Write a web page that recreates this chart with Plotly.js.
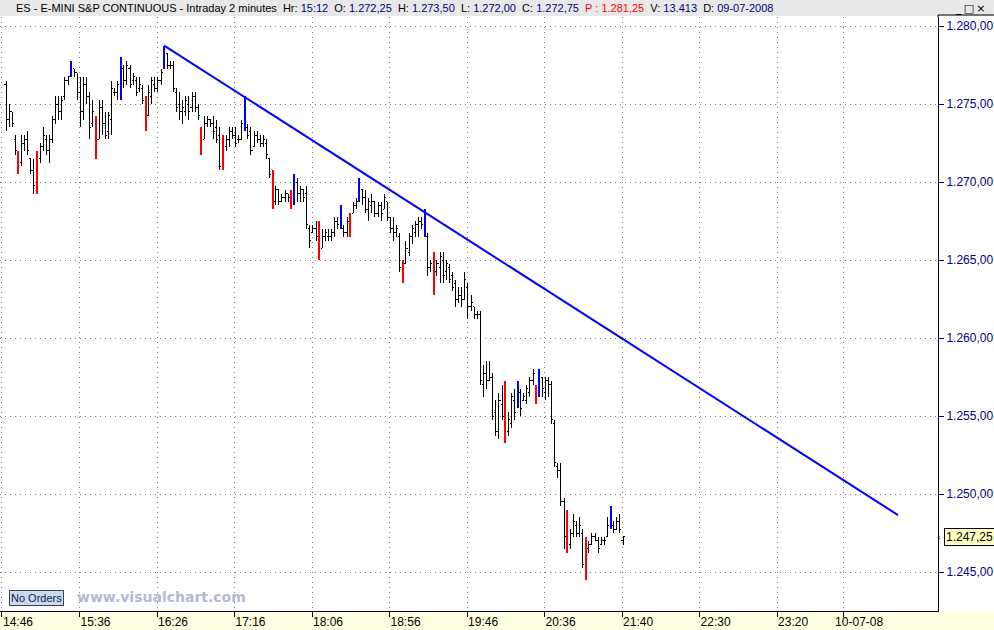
<!DOCTYPE html>
<html>
<head>
<meta charset="utf-8">
<script src="https://cdn.plot.ly/plotly-3.0.1.min.js"></script>
<style>
html,body{margin:0;padding:0;background:#fff;}
#chart{width:994px;height:630px;}
#chart .ohlclayer path{shape-rendering:crispEdges;}
</style>
</head>
<body>
<div id="chart"></div>
<script>
// ES - E-MINI S&P, 2 minute bars, index 0 = first bar on screen
const openP = [
1276.25,1274.0,1274.5,1272.75,1271.75,1271.25,1272.5,1272.75,1271.5,1270.75,
1270.0,1271.5,1272.25,1272.75,1272.0,1272.75,1274.0,1275.0,1274.5,1275.5,
1276.5,1276.75,1277.25,1277.0,1275.75,1274.5,1276.25,1275.5,1273.75,1274.0,
1272.75,1274.75,1273.75,1273.25,1274.0,1275.75,1275.75,1276.0,1277.25,1276.5,
1277.25,1276.5,1276.5,1276.0,1276.0,1275.25,1274.25,1275.5,1276.25,1276.0,
1276.5,1277.25,1278.25,1277.5,1277.5,1275.75,1275.0,1274.5,1274.5,1275.0,
1274.75,1275.5,1274.75,1273.25,1272.75,1273.75,1274.0,1273.75,1273.5,1273.0,
1271.0,1272.25,1272.75,1273.25,1273.0,1272.75,1272.75,1273.75,1273.5,1273.25,
1272.25,1273.0,1272.75,1272.5,1272.5,1271.5,1270.5,1268.75,1269.5,1268.75,
1269.0,1269.25,1269.0,1268.75,1270.0,1269.25,1269.5,1269.25,1267.0,1266.75,
1267.0,1266.75,1265.75,1266.5,1266.5,1266.5,1266.75,1267.5,1267.25,1267.0,
1266.75,1267.5,1268.0,1268.5,1268.75,1269.5,1269.0,1268.25,1268.5,1268.75,
1268.0,1268.5,1268.25,1268.75,1267.75,1267.0,1266.75,1266.5,1264.75,1264.75,
1265.5,1266.5,1266.75,1267.25,1267.5,1267.0,1266.5,1264.5,1264.75,1264.25,
1264.5,1265.0,1264.25,1264.5,1264.0,1263.5,1262.5,1262.75,1262.5,1263.25,
1262.0,1262.0,1261.5,1261.5,1257.0,1257.75,1257.25,1257.5,1255.25,1254.0,
1255.75,1255.25,1254.0,1254.5,1256.0,1255.75,1256.5,1256.0,1256.0,1256.5,
1257.25,1256.75,1256.5,1257.5,1256.5,1257.25,1257.0,1254.5,1251.75,1251.5,
1249.5,1248.75,1246.75,1247.5,1248.0,1247.5,1247.5,1247.0,1246.5,1246.75,
1247.25,1247.0,1246.75,1247.0,1247.25,1248.0,1248.0,1247.75,1248.25,1247.0
];
const highP = [
1276.5,1275.0,1274.5,1273.0,1272.0,1273.0,1273.0,1273.25,1271.5,1271.5,
1272.0,1272.5,1273.5,1273.0,1273.0,1274.25,1275.5,1275.5,1275.5,1276.75,
1276.75,1277.75,1277.25,1277.0,1276.75,1276.75,1276.75,1275.75,1275.25,1274.25,
1275.25,1275.25,1274.5,1274.5,1276.5,1276.0,1276.5,1278.0,1277.5,1277.75,
1277.5,1277.0,1276.75,1276.75,1276.25,1275.5,1276.25,1276.75,1276.75,1276.75,
1277.25,1278.75,1278.25,1277.75,1277.75,1276.0,1275.75,1275.25,1275.5,1275.5,
1275.75,1275.75,1275.0,1273.5,1274.25,1274.25,1274.0,1274.25,1274.0,1273.5,
1273.0,1273.0,1273.5,1273.5,1273.5,1273.0,1274.0,1275.5,1273.75,1273.5,
1273.25,1273.25,1273.0,1273.0,1272.75,1271.5,1270.75,1269.75,1269.5,1269.25,
1269.5,1269.25,1269.5,1270.5,1270.25,1269.75,1269.5,1269.75,1267.25,1267.25,
1267.5,1267.5,1267.0,1267.0,1267.0,1267.0,1267.75,1267.75,1268.5,1267.25,
1267.75,1268.0,1268.75,1269.0,1270.25,1269.5,1269.5,1269.0,1269.25,1268.75,
1268.75,1268.75,1269.25,1268.75,1267.75,1267.75,1267.25,1266.75,1265.0,1266.25,
1266.75,1267.25,1267.5,1267.75,1267.75,1268.25,1266.75,1265.0,1265.5,1265.0,
1265.5,1265.5,1265.0,1264.75,1264.25,1263.75,1263.25,1263.25,1264.25,1263.5,
1262.75,1262.0,1261.75,1261.75,1258.25,1258.5,1258.5,1257.75,1256.0,1256.5,
1257.0,1257.25,1255.25,1256.5,1256.75,1257.25,1256.75,1256.5,1257.0,1257.5,
1258.0,1257.0,1258.0,1257.5,1257.5,1257.5,1257.25,1254.75,1252.0,1252.0,
1249.75,1249.0,1247.75,1248.75,1248.25,1248.5,1247.75,1247.25,1247.0,1247.5,
1247.5,1247.25,1247.25,1247.25,1248.5,1249.25,1248.25,1248.5,1248.75,1247.25
];
const lowP = [
1273.25,1273.5,1273.5,1271.75,1270.5,1271.0,1272.0,1271.75,1270.5,1269.25,
1269.25,1271.25,1272.0,1271.75,1271.25,1272.5,1273.75,1274.0,1274.0,1275.25,
1276.25,1276.75,1276.75,1275.25,1273.5,1274.0,1275.0,1272.75,1273.5,1271.5,
1272.75,1273.0,1272.75,1272.75,1273.0,1275.5,1275.25,1275.25,1276.0,1276.25,
1276.0,1276.25,1275.5,1275.75,1275.0,1273.25,1274.25,1275.0,1275.75,1275.75,
1276.25,1277.25,1277.25,1277.25,1275.75,1274.5,1274.0,1273.75,1274.25,1274.0,
1274.5,1274.5,1274.0,1271.75,1272.75,1273.5,1273.5,1272.75,1272.5,1270.75,
1270.75,1272.0,1272.25,1272.75,1272.25,1272.5,1272.75,1273.25,1272.75,1271.75,
1272.25,1272.5,1272.25,1272.25,1271.5,1270.25,1268.25,1268.5,1268.5,1268.75,
1268.75,1268.75,1268.25,1268.5,1268.75,1268.75,1268.75,1267.0,1265.75,1266.75,
1266.25,1265.0,1265.75,1266.25,1266.25,1266.25,1266.5,1267.0,1267.0,1266.5,
1266.5,1266.5,1268.0,1268.25,1268.75,1268.5,1268.0,1267.5,1268.0,1267.75,
1267.75,1267.5,1268.25,1267.5,1266.75,1266.25,1266.5,1264.25,1263.5,1264.75,
1265.25,1266.0,1266.5,1266.5,1267.0,1266.5,1264.0,1264.25,1262.75,1264.0,
1263.5,1263.5,1263.75,1263.5,1263.0,1262.0,1262.25,1262.0,1262.5,1261.25,
1261.75,1261.25,1261.25,1257.0,1256.25,1256.75,1257.25,1254.75,1253.75,1253.5,
1254.75,1253.25,1253.75,1254.25,1254.75,1255.5,1255.0,1256.0,1255.75,1256.25,
1257.0,1255.75,1256.25,1256.25,1256.0,1256.25,1254.5,1251.75,1251.0,1249.25,
1246.5,1246.25,1246.5,1247.25,1247.25,1247.25,1245.25,1244.5,1246.25,1246.75,
1247.0,1246.25,1246.75,1246.75,1247.25,1247.75,1247.5,1247.75,1247.5,1246.75
];
const closeP = [
1274.0,1274.5,1273.75,1272.0,1271.0,1272.5,1272.75,1272.0,1270.75,1269.75,
1271.25,1272.25,1273.0,1272.0,1272.75,1274.0,1275.0,1274.5,1275.25,1276.5,
1276.75,1277.5,1277.0,1275.75,1274.5,1276.25,1275.5,1273.5,1274.5,1272.0,
1274.75,1273.75,1273.0,1274.25,1276.0,1275.75,1276.25,1277.5,1276.5,1277.5,
1276.25,1276.75,1275.75,1276.25,1275.25,1274.0,1275.75,1276.5,1276.0,1276.5,
1277.0,1278.5,1277.5,1277.5,1276.0,1274.75,1274.5,1274.75,1275.25,1274.5,
1275.5,1274.75,1274.25,1272.0,1273.75,1274.0,1273.75,1273.25,1272.75,1271.0,
1272.5,1272.75,1273.25,1273.0,1272.5,1272.75,1273.75,1274.5,1273.0,1272.0,
1273.0,1272.75,1272.5,1272.75,1271.75,1270.5,1268.5,1269.5,1268.75,1269.0,
1269.25,1269.0,1268.5,1270.25,1269.25,1269.5,1269.0,1267.25,1266.25,1267.0,
1266.5,1265.75,1266.5,1266.75,1266.5,1266.75,1267.5,1267.25,1268.25,1266.75,
1267.5,1266.75,1268.5,1268.75,1270.0,1269.0,1268.25,1268.75,1268.75,1268.0,
1268.5,1268.0,1269.0,1267.75,1267.0,1266.75,1267.0,1264.5,1264.0,1265.75,
1266.5,1267.0,1267.25,1267.5,1267.25,1266.75,1264.5,1264.75,1263.5,1264.75,
1265.25,1264.0,1264.75,1263.75,1263.25,1262.5,1262.75,1262.5,1263.75,1262.0,
1262.25,1261.5,1261.5,1257.25,1257.75,1257.25,1257.5,1255.0,1254.0,1256.0,
1255.0,1253.75,1254.75,1256.25,1255.25,1256.75,1255.5,1256.25,1256.75,1257.25,
1257.75,1256.0,1257.75,1256.75,1257.25,1257.0,1254.75,1252.0,1251.5,1249.5,
1247.25,1246.75,1247.5,1248.25,1247.5,1248.0,1245.5,1246.5,1246.75,1247.25,
1247.0,1246.5,1247.0,1247.0,1248.0,1248.75,1247.75,1248.25,1247.75,1247.25
];
// bars drawn in red / blue by the chart software
const redBars  = [4,10,29,45,63,70,86,92,101,111,128,138,161,171,181,187];
const blueBars = [21,37,51,77,93,108,114,135,165,172,195];

// hand-drawn trend line (bar index, price)
const trendX = [51, 287.7];
const trendY = [1278.75, 1248.65];

// axes
const timeLabels = ['14:46','15:36','16:26','17:16','18:06','18:56','19:46','20:36','21:40','22:30','23:20','10-07-08'];
const timeTickPos = [-1.3,23.7,48.7,73.7,98.7,123.7,148.7,173.7,198.7,223.7,248.7,270];
const priceTicks = [1245,1250,1255,1260,1265,1270,1275,1280];
const priceLabels = ['1.245,00','1.250,00','1.255,00','1.260,00','1.265,00','1.270,00','1.275,00','1.280,00'];
const lastPrice = 1247.25;
const lastPriceLabel = '1.247,25';

const W = 994, H = 630, ML = 0, MR = 56, MT = 17, MB = 19;
const PW = W - ML - MR, PH = H - MT - MB;
const px = v => v / PW, py = v => v / PH;

function pick(arr, idx) { return idx.map(i => arr[i]); }
const allIdx = openP.map((_, i) => i);
const blackIdx = allIdx.filter(i => !redBars.includes(i) && !blueBars.includes(i));

function ohlc(idx, color, width, tw) {
  return {
    type: 'ohlc', x: idx,
    open: pick(openP, idx), high: pick(highP, idx), low: pick(lowP, idx), close: pick(closeP, idx),
    tickwidth: tw,
    increasing: {line: {color: color, width: width}},
    decreasing: {line: {color: color, width: width}},
    hoverinfo: 'skip', showlegend: false
  };
}

const traces = [
  ohlc(blackIdx, '#000000', 1, 0.5),
  ohlc(redBars, '#ff0000', 2, 0.06),
  ohlc(blueBars, '#0000ff', 2, 0.06),
  {type: 'scatter', mode: 'lines', x: trendX, y: trendY, line: {color: '#0000ff', width: 2}, hoverinfo: 'skip', showlegend: false}
];

const NAVY = '#000080';
const sp = '\u00a0';
const titleText =
  'ES - E-MINI S&amp;P CONTINUOUS - Intraday 2 minutes' + sp + sp +
  'Hr: <span style="color:' + NAVY + '">15:12</span>' + sp + sp +
  'O: <span style="color:' + NAVY + '">1.272,25</span>' + sp + sp +
  'H: <span style="color:' + NAVY + '">1.273,50</span>' + sp + sp +
  'L: <span style="color:' + NAVY + '">1.272,00</span>' + sp + sp +
  'C: <span style="color:' + NAVY + '">1.272,75</span>' + sp + sp +
  '<span style="color:#ff0000">P : 1.281,25</span>' + sp + sp +
  'V: <span style="color:' + NAVY + '">13.413</span>' + sp + sp +
  'D: <span style="color:' + NAVY + '">09-07-2008</span>';

const layout = {
  width: W, height: H,
  margin: {l: ML, r: MR, t: MT, b: MB, pad: 0},
  paper_bgcolor: '#ffffff', plot_bgcolor: '#ffffff',
  showlegend: false,
  font: {family: 'Liberation Sans, Arial, sans-serif', size: 12, color: '#000'},
  xaxis: {
    range: [-1.94, 300.6], fixedrange: true,
    tickmode: 'array', tickvals: timeTickPos, ticktext: timeLabels,
    showgrid: true, gridcolor: '#808080', griddash: '1px,4px', gridwidth: 1,
    ticks: 'outside', ticklen: 5, tickcolor: '#000', tickwidth: 1,
    showline: true, linecolor: '#000', linewidth: 1, zeroline: false,
    tickfont: {family: 'Liberation Sans, Arial, sans-serif', size: 12, color: '#000'},
    ticklabelshift: 16, ticklabelstandoff: -5,
    rangeslider: {visible: false}
  },
  yaxis: {
    side: 'right', range: [1242.5, 1280.58], fixedrange: true,
    tickmode: 'array', tickvals: priceTicks, ticktext: priceLabels,
    showgrid: true, gridcolor: '#808080', griddash: '1px,4px', gridwidth: 1,
    ticks: 'outside', ticklen: 5, tickcolor: NAVY, tickwidth: 1,
    showline: true, linecolor: '#000', linewidth: 1, zeroline: false,
    tickfont: {family: 'Liberation Sans, Arial, sans-serif', size: 12, color: NAVY},
    ticklabelstandoff: 0
  },
  shapes: [
    {type: 'rect', xref: 'paper', yref: 'paper', x0: px(-1), x1: px(W + 1), y0: 1 + py(1), y1: 1 + py(MT + 1),
     fillcolor: '#e8e8e8', line: {width: 0}, layer: 'below'},
    {type: 'rect', xref: 'paper', yref: 'paper', x0: px(-1), x1: px(W + 1), y0: -py(MB + 1), y1: 0,
     fillcolor: '#ffffe1', line: {width: 0}, layer: 'below'},
    {type: 'line', xref: 'paper', yref: 'paper', x0: 1, x1: px(W), y0: 1 + py(2), y1: 1 + py(2),
     line: {color: '#000', width: 1}},
    {type: 'line', xref: 'paper', yref: 'paper', x0: 1, x1: 1, y0: 1, y1: 1 + py(2),
     line: {color: '#000', width: 1}}
  ],
  annotations: [
    {xref: 'paper', yref: 'paper', x: px(14), y: 1 + py(MT - 8), xanchor: 'left', yanchor: 'middle',
     showarrow: false, text: titleText, font: {family: 'Liberation Sans, Arial, sans-serif', size: 11, color: '#000'}},
    {xref: 'paper', yref: 'paper', x: px(W - 6), y: 1 + py(MT - 8), xanchor: 'right', yanchor: 'middle',
     showarrow: false, text: '<b>_</b>\u2009\u25a1\u2009\u00d7', font: {family: 'DejaVu Sans', size: 11, color: '#000'}},
    {xref: 'paper', yref: 'paper', x: px(75), y: py(14), xanchor: 'left', yanchor: 'middle',
     showarrow: false, text: 'www.visualchart.com',
     font: {family: 'DejaVu Sans, Verdana, sans-serif', size: 14, color: '#b3b8d6', weight: 'bold'}},
    {xref: 'paper', yref: 'paper', x: px(9), y: py(13), xanchor: 'left', yanchor: 'middle',
     showarrow: false, text: 'No Orders', bgcolor: '#c6daf0', bordercolor: '#404060', borderwidth: 1, borderpad: 1,
     font: {family: 'Liberation Sans, Arial, sans-serif', size: 11, color: '#1a1a40'}},
    {xref: 'paper', yref: 'y', x: px(PW + 6), y: lastPrice, xanchor: 'left', yanchor: 'middle',
     showarrow: false, text: lastPriceLabel, bgcolor: '#ffffc0', bordercolor: '#000', borderwidth: 1, borderpad: 1,
     font: {family: 'Liberation Sans, Arial, sans-serif', size: 12, color: '#000'}},
    {xref: 'paper', yref: 'y', x: px(PW + 5), y: lastPrice, xanchor: 'right', yanchor: 'middle',
     showarrow: false, text: '\u2039', font: {family: 'DejaVu Sans', size: 9, color: '#000'}}
  ]
};

Plotly.newPlot('chart', traces, layout, {displayModeBar: false, staticPlot: true});
</script>
</body>
</html>
